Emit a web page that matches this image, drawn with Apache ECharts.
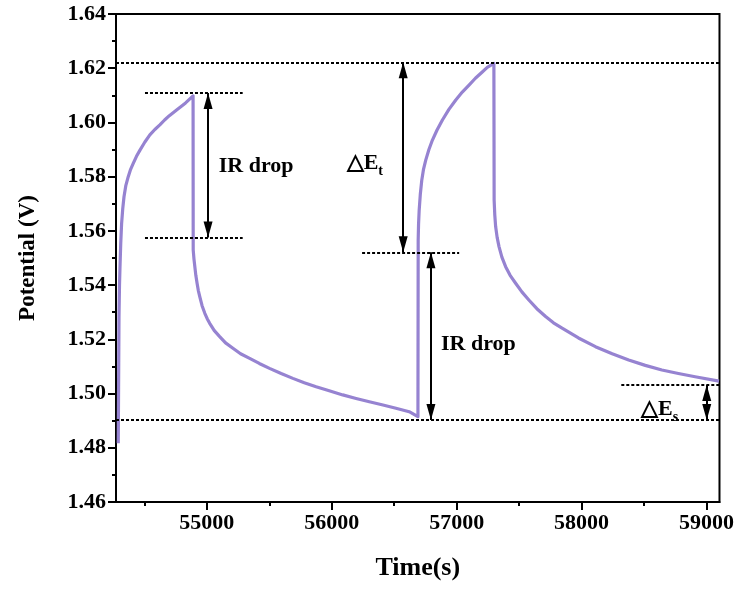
<!DOCTYPE html>
<html><head><meta charset="utf-8">
<script src="https://cdn.jsdelivr.net/npm/echarts@6/dist/echarts.min.js"></script>
<style>html,body{margin:0;padding:0;background:#fff}#c{width:737px;height:589px}</style>
</head><body><div id="c"></div>
<script>
// ---- data (time in s, potential in V) ----
const xTickValues = [55000, 56000, 57000, 58000, 59000];
const charge1 = [[54291,1.4817],[54294,1.5050],[54297,1.5284],[54301,1.5400],[54305,1.5468],[54311,1.5555],[54318,1.5628],[54327,1.5682],[54337,1.5726],[54352,1.5768],[54371,1.5800],[54390,1.5827],[54411,1.5849],[54437,1.5875],[54465,1.5898],[54503,1.5927],[54544,1.5954],[54584,1.5974],[54624,1.5991],[54662,1.6009],[54700,1.6025],[54758,1.6046],[54830,1.6072],[54890,1.6098]];
const discharge1 = [[54891,1.5530],[54897,1.5497],[54904,1.5468],[54912,1.5436],[54922,1.5407],[54932,1.5380],[54944,1.5357],[54962,1.5324],[54984,1.5296],[55003,1.5276],[55023,1.5259],[55060,1.5232],[55103,1.5210],[55150,1.5187],[55209,1.5167],[55270,1.5147],[55343,1.5130],[55420,1.5111],[55502,1.5093],[55595,1.5074],[55689,1.5056],[55780,1.5040],[55875,1.5025],[55980,1.5010],[56088,1.4995],[56195,1.4982],[56301,1.4970],[56410,1.4958],[56514,1.4946],[56620,1.4933],[56690,1.4915]];
const charge2 = [[56692,1.5566],[56695,1.5625],[56700,1.5677],[56709,1.5735],[56721,1.5788],[56735,1.5828],[56753,1.5862],[56778,1.5900],[56806,1.5935],[56843,1.5972],[56886,1.6009],[56938,1.6048],[56993,1.6083],[57045,1.6112],[57099,1.6138],[57150,1.6163],[57205,1.6186],[57245,1.6203],[57298,1.6218]];
const discharge2 = [[57300,1.5714],[57305,1.5660],[57312,1.5616],[57324,1.5576],[57339,1.5542],[57362,1.5503],[57392,1.5468],[57428,1.5436],[57472,1.5407],[57522,1.5375],[57578,1.5345],[57642,1.5313],[57712,1.5284],[57775,1.5261],[57844,1.5241],[57975,1.5205],[58111,1.5173],[58245,1.5147],[58377,1.5124],[58510,1.5104],[58643,1.5087],[58775,1.5074],[58909,1.5062],[59100,1.5046]];
// reference (dotted) lines: [tFrom, tTo, potential]
const refLines = [[54273,59104,1.6222],[54273,59104,1.4902],[54505,55287,1.6109],[54505,55287,1.5576],[56243,57020,1.5521],[58318,59104,1.5032]];
// double arrows: [t, potentialFrom, potentialTo]
const arrows = [[55010,1.6109,1.5576],[56572,1.6222,1.5521],[56794,1.5521,1.4902],[59002,1.5032,1.4902]];
// annotation texts and their anchor points
const noteTexts = ['{m|IR drop}', '{m|△E}{s|t}', '{m|IR drop}', '{m|△E}{s|s}'];
const notePoints = [[55395,1.5836],[56265,1.5847],[57174,1.5179],[58624,1.4939]];

const FONT = '"Liberation Serif","Times New Roman",serif';
const chart = echarts.init(document.getElementById('c'), null, {renderer:'canvas'});
const axisLbl = {color:'#000', fontFamily:FONT, fontWeight:'bold', fontSize:22};
const blk = {color:'#000', width:2};
const option = {
  animation:false,
  grid:{left:116, right:16, top:14, bottom:87, show:true, borderColor:'#000', borderWidth:2, backgroundColor:'transparent'},
  xAxis:{
    type:'value', min:54273, max:59104,
    name:'Time(s)', nameLocation:'middle', nameGap:53,
    nameTextStyle:{color:'#000', fontFamily:FONT, fontWeight:'bold', fontSize:26},
    axisLine:{lineStyle:blk},
    axisTick:{length:8, lineStyle:blk, customValues:xTickValues},
    minorTick:{show:true, splitNumber:2, length:4, lineStyle:blk},
    axisLabel:Object.assign({margin:10, customValues:xTickValues, formatter:v=>String(v)}, axisLbl),
    splitLine:{show:false}
  },
  yAxis:{
    type:'value', min:1.46, max:1.64, interval:0.02,
    name:'Potential (V)', nameLocation:'middle', nameGap:76,
    nameTextStyle:{color:'#000', fontFamily:FONT, fontWeight:'bold', fontSize:23},
    axisLine:{lineStyle:blk},
    axisTick:{length:8, lineStyle:blk},
    minorTick:{show:true, splitNumber:2, length:4, lineStyle:blk},
    axisLabel:Object.assign({margin:10, formatter:v=>v.toFixed(2)}, axisLbl),
    splitLine:{show:false}
  },
  series:[
    {
      type:'line', name:'potential', showSymbol:false, symbol:'none', smooth:false,
      data:[].concat(charge1, discharge1, charge2, discharge2),
      lineStyle:{color:'#9683d1', width:3.2, join:'round'}, z:3
    },
    {
      type:'line', name:'refs', data:[], z:2,
      markLine:{silent:true, symbol:'none', animation:false,
        lineStyle:{color:'#000', width:2, type:[3,2]},
        label:{show:false}, emphasis:{disabled:true},
        data:refLines.map(([a,b,v])=>[{coord:[a,v]},{coord:[b,v]}])}
    },
    {
      type:'line', name:'arrows', data:[], z:4,
      markLine:{silent:true, symbol:['triangle','triangle'], symbolSize:[9,16], symbolOffset:[[0,8],[0,8]], animation:false,
        lineStyle:{color:'#000', width:2, type:'solid'},
        itemStyle:{color:'#000'},
        label:{show:false}, emphasis:{disabled:true},
        data:arrows.map(([t,a,b])=>[{coord:[t,a]},{coord:[t,b]}])}
    },
    {
      type:'scatter', name:'notes', symbolSize:0, silent:true, z:5,
      itemStyle:{opacity:1},
      data:notePoints.map((p,i)=>({value:p, label:{formatter:noteTexts[i]}})),
      label:{show:true, position:'inside', color:'#000', opacity:1,
        rich:{
          m:{fontFamily:FONT, fontWeight:'bold', fontSize:22, color:'#000', lineHeight:24, verticalAlign:'top'},
          s:{fontFamily:FONT, fontWeight:'bold', fontSize:14, color:'#000', lineHeight:14, padding:[12,0,0,0], verticalAlign:'top'}
        }}
    }
  ]
};
chart.setOption(option);
</script></body></html>
